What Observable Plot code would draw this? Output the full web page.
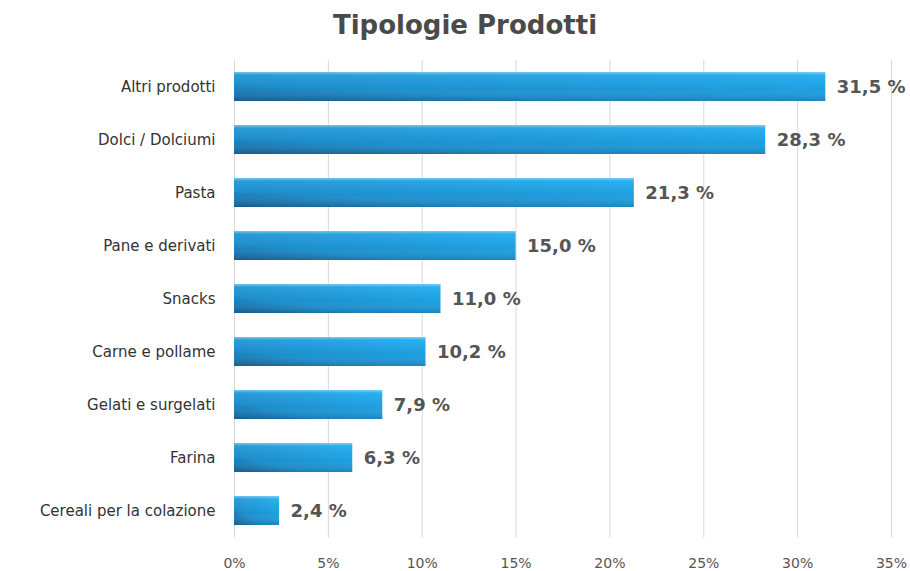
<!DOCTYPE html>
<html>
<head>
<meta charset="utf-8">
<script src="https://cdn.jsdelivr.net/npm/d3@7"></script>
<script src="https://cdn.jsdelivr.net/npm/@observablehq/plot@0.6"></script>
<style>
  html, body { margin: 0; padding: 0; background: #fff; }
  #title { height: 56px; width: 910px; text-align: center; font-family: "DejaVu Sans", sans-serif; font-weight: bold; font-size: 26px; color: #4a4a4a; line-height: 50px; box-sizing: border-box; padding-left: 20px; }
  svg { display: block; }
</style>
</head>
<body>
<div id="title">Tipologie Prodotti</div>
<div id="chart"></div>
<script>
const categories = ["Altri prodotti", "Dolci / Dolciumi", "Pasta", "Pane e derivati", "Snacks", "Carne e pollame", "Gelati e surgelati", "Farina", "Cereali per la colazione"];
const values = [31.5, 28.3, 21.3, 15.0, 11.0, 10.2, 7.9, 6.3, 2.4];
const xTicks = [0, 5, 10, 15, 20, 25, 30, 35];

const data = categories.map((c, i) => ({category: c, value: values[i], label: values[i].toFixed(1).replace(".", ",") + " %"}));

const defs = () => {
  const ns = "http://www.w3.org/2000/svg";
  const d = document.createElementNS(ns, "defs");
  d.innerHTML = `
    <linearGradient id="barH" x1="0" y1="1" x2="1" y2="0">
      <stop offset="0%" stop-color="#1a6598"/>
      <stop offset="30%" stop-color="#1d8ecb"/>
      <stop offset="100%" stop-color="#1fadf0"/>
    </linearGradient>
    <linearGradient id="barV" x1="0" y1="0" x2="0" y2="1">
      <stop offset="0%" stop-color="#c8efff" stop-opacity="0.5"/>
      <stop offset="10%" stop-color="#ffffff" stop-opacity="0.06"/>
      <stop offset="60%" stop-color="#ffffff" stop-opacity="0"/>
      <stop offset="100%" stop-color="#002040" stop-opacity="0.15"/>
    </linearGradient>`;
  return d;
};

const chart = Plot.plot({
  width: 910,
  height: 515,
  marginLeft: 234,
  marginRight: 19,
  marginTop: 4,
  marginBottom: 33.5,
  style: {fontFamily: "DejaVu Sans, sans-serif", background: "#fff"},
  x: {domain: [0, 35], ticks: xTicks, tickFormat: d => d + "%", label: null, tickSize: 0, tickPadding: 20},
  y: {domain: categories, label: null, paddingInner: 0.45, paddingOuter: 0.225, tickSize: 0, tickPadding: 19},
  marks: [
    defs,
    Plot.gridX(xTicks, {stroke: "#d8d8d8", strokeOpacity: 1, strokeWidth: 1}),
    Plot.barX(data, {y: "category", x: "value", fill: "url(#barH)"}),
    Plot.barX(data, {y: "category", x: "value", fill: "url(#barV)"}),
    Plot.text(data, {y: "category", x: "value", text: "label", textAnchor: "start", dx: 11, fontSize: 18, fontWeight: "bold", fill: "#555"}),
    Plot.axisY({tickSize: 0, tickPadding: 19, fontSize: 15, fill: "#333", label: null}),
    Plot.axisX({ticks: xTicks, tickFormat: d => d + "%", tickSize: 0, tickPadding: 20, fontSize: 14, fill: "#555", label: null})
  ]
});
document.getElementById("chart").appendChild(chart);
</script>
</body>
</html>
